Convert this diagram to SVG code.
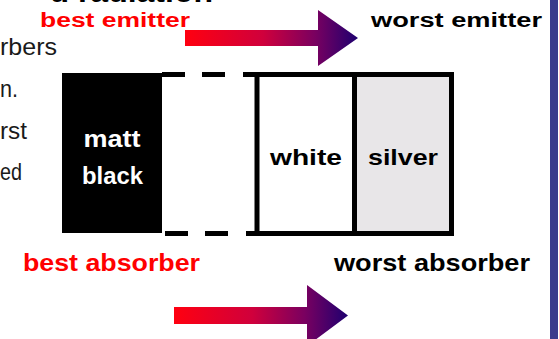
<svg xmlns="http://www.w3.org/2000/svg" width="559" height="339" viewBox="0 0 559 339">
  <defs>
    <linearGradient id="arrowGrad" x1="0" y1="0" x2="1" y2="0">
      <stop offset="0" stop-color="#ff0010"/>
      <stop offset="0.45" stop-color="#d0003c"/>
      <stop offset="0.75" stop-color="#7a0060"/>
      <stop offset="1" stop-color="#1e0070"/>
    </linearGradient>
  </defs>
  <style>
    .bold { font-family: "Liberation Sans", Arial, sans-serif; font-weight: bold; }
    .reg { font-family: "Liberation Sans", Arial, sans-serif; font-size: 24px; fill: #1a1a1a; }
    .s20 { font-size: 20px; }
    .s22 { font-size: 22px; }
    .s24 { font-size: 24px; }
    .red { fill: #ff0000; }
    .blk { fill: #000000; }
    .wht { fill: #ffffff; }
    .box { stroke: #000000; stroke-width: 5; }
    .dash { stroke: #000000; stroke-width: 5; fill: none; }
  </style>
  <rect x="0" y="0" width="559" height="339" fill="#ffffff"/>

  <!-- cut-off title -->
  <text x="213" y="2" text-anchor="end" style="font-family: 'Liberation Sans', Arial, sans-serif; font-weight: bold; font-size: 32px;" fill="#000">d radiation</text>

  <!-- partially visible left text -->
  <g id="left-text">
    <text class="reg" x="0" y="55" textLength="57" lengthAdjust="spacingAndGlyphs">rbers</text>
    <text class="reg" x="0" y="97" textLength="18" lengthAdjust="spacingAndGlyphs">n.</text>
    <text class="reg" x="0" y="139" textLength="27" lengthAdjust="spacingAndGlyphs">rst</text>
    <text class="reg" x="0" y="180" textLength="22" lengthAdjust="spacingAndGlyphs">ed</text>
  </g>

  <!-- right blue bar -->
  <rect x="550" y="0" width="8" height="339" fill="#3b3a8c"/>

  <g id="label-best-emitter"><text class="bold s20 red" x="40" y="27" textLength="150" lengthAdjust="spacingAndGlyphs">best emitter</text></g>
  <g id="label-worst-emitter"><text class="bold s20 blk" x="371" y="27" textLength="171" lengthAdjust="spacingAndGlyphs">worst emitter</text></g>
  <g id="label-best-absorber"><text class="bold s24 red" x="23" y="271" textLength="177" lengthAdjust="spacingAndGlyphs">best absorber</text></g>
  <g id="label-worst-absorber"><text class="bold s24 blk" x="334" y="271" textLength="196" lengthAdjust="spacingAndGlyphs">worst absorber</text></g>

  <g id="node-matt-black">
    <rect x="62" y="73" width="100" height="160" fill="#000000"/>
    <text class="bold s24 wht" x="112" y="147" text-anchor="middle" textLength="57" lengthAdjust="spacingAndGlyphs">matt</text>
    <text class="bold s24 wht" x="112.5" y="184" text-anchor="middle" textLength="61" lengthAdjust="spacingAndGlyphs">black</text>
  </g>

  <g id="node-dashed">
    <line class="dash" x1="162" y1="74.5" x2="185" y2="74.5"/>
    <line class="dash" x1="202" y1="74.5" x2="225" y2="74.5"/>
    <line class="dash" x1="243" y1="74.5" x2="257" y2="74.5"/>
    <line class="dash" x1="165" y1="233.5" x2="188" y2="233.5"/>
    <line class="dash" x1="205" y1="233.5" x2="228" y2="233.5"/>
    <line class="dash" x1="246" y1="233.5" x2="257" y2="233.5"/>
  </g>

  <g id="node-white">
    <rect class="box" x="257" y="74.5" width="97.5" height="159" fill="#ffffff"/>
    <text class="bold s22 blk" x="306" y="165" text-anchor="middle" textLength="72" lengthAdjust="spacingAndGlyphs">white</text>
  </g>

  <g id="node-silver">
    <rect class="box" x="354.5" y="74.5" width="97" height="159" fill="#e8e6e8"/>
    <text class="bold s22 blk" x="403" y="165" text-anchor="middle" textLength="70" lengthAdjust="spacingAndGlyphs">silver</text>
  </g>

  <g id="connectors">
    <path d="M185,30 H318 V10 L358,38 L318,66 V46 H185 Z" fill="url(#arrowGrad)"/>
    <path d="M174,307 H307 V285 L348,315.5 L307,346 V324 H174 Z" fill="url(#arrowGrad)"/>
  </g>
</svg>
